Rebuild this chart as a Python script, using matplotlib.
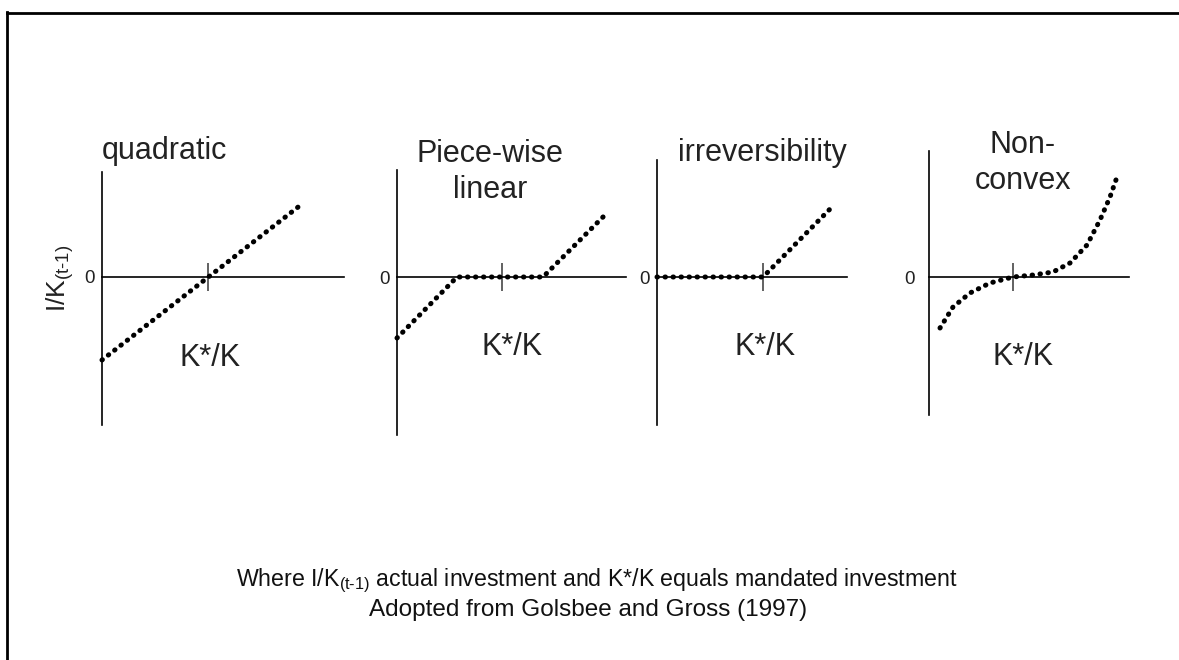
import matplotlib.pyplot as plt
from matplotlib.lines import Line2D

plt.rcParams['font.family'] = ['Liberation Sans', 'DejaVu Sans']
plt.rcParams['mathtext.fontset'] = 'custom'
plt.rcParams['mathtext.rm'] = 'Liberation Sans'
plt.rcParams['mathtext.it'] = 'Liberation Sans:italic'

W, H = 1179, 660

# data (one unit = 10 px, origin where the axes cross)
titles = ["quadratic", "Piece-wise\nlinear", "irreversibility", "Non-\nconvex"]
x_label = "K*/K"
k_star = [10.6, 10.5, 10.6, 8.4]

quad_x = [0, 20.0]
quad_y = [-8.3, 7.3]

pw_x = [0, 6.0, 14.6, 20.8]
pw_y = [-6.1, 0, 0, 6.2]

irr_x = [0, 10.6, 17.5]
irr_y = [0, 0, 7.0]

nc_x = [1.1, 2.4, 4.1, 6.1, 8.4, 10.4, 12.4, 14.1, 15.8, 17.1, 18.1, 18.8]
nc_y = [-5.1, -3.0, -1.6, -0.6, 0.0, 0.2, 0.5, 1.4, 3.2, 5.7, 8.0, 10.0]

curves = [(quad_x, quad_y), (pw_x, pw_y), (irr_x, irr_y), (nc_x, nc_y)]

# layout in pixels
boxes = [(102, 172, 344, 425), (397, 170, 626, 435), (657, 160, 847, 425), (929, 151, 1129, 415)]
zero_y = 277
scale = 10
zero_pad = [5, 5, 5, 10]
title_pos = [(102, 151, 'left'), (490, 172, 'center'), (762, 153, 'center'), (1023, 163, 'center')]
xlab_pos = [(210, 358), (512, 347), (765, 347), (1023, 357)]

fig = plt.figure(figsize=(W / 100, H / 100), dpi=100)

for i in range(4):
    l, t, r, b = boxes[i]
    ax = fig.add_axes([l / W, 1 - b / H, (r - l) / W, (b - t) / H])
    ax.set_xlim(0, (r - l) / scale)
    ax.set_ylim(-(b - zero_y) / scale, (zero_y - t) / scale)
    ax.patch.set_visible(False)
    ax.spines['top'].set_visible(False)
    ax.spines['right'].set_visible(False)
    ax.spines['left'].set_linewidth(1.2)
    ax.spines['bottom'].set_linewidth(1.2)
    ax.spines['bottom'].set_position(('data', 0))

    ax.set_xticks([k_star[i]])
    ax.set_xticklabels([''])
    ax.tick_params(axis='x', direction='inout', length=20, width=1.3, color='#555555')
    ax.set_yticks([0])
    ax.set_yticklabels(['0'])
    ax.tick_params(axis='y', length=0, pad=zero_pad[i], labelsize=13.5, labelcolor='#222222')

    cx, cy = curves[i]
    ax.plot(cx, cy, color='black', linewidth=3.6, linestyle=(0, (0.1, 1.5)),
            dash_capstyle='round', clip_on=False, zorder=3)

    tx, ty, ha = title_pos[i]
    fig.text(tx / W, 1 - ty / H, titles[i], ha=ha, va='center', fontsize=22,
             color='#222222', linespacing=1.25)
    lx, ly = xlab_pos[i]
    fig.text(lx / W, 1 - ly / H, x_label, ha='center', va='center', fontsize=22, color='#222222')

fig.text(60 / W, 1 - 278 / H, r'I/K$_{\text{(t-1)}}$', rotation=90, ha='center', va='center',
         fontsize=19, color='#222222')

fig.text(597 / W, 1 - 581 / H,
         r'Where I/K$_{\text{(t-1)}}$ actual investment and K*/K equals mandated investment',
         ha='center', va='center', fontsize=16.7, color='#111111')
fig.text(588 / W, 1 - 610 / H, 'Adopted from Golsbee and Gross (1997)',
         ha='center', va='center', fontsize=17.5, color='#111111')

# page frame (top and left only)
fig.add_artist(Line2D([7 / W, 1], [1 - 13 / H, 1 - 13 / H], color='black', linewidth=2))
fig.add_artist(Line2D([7 / W, 7 / W], [0, 1 - 12 / H], color='black', linewidth=2))

fig.savefig('out.png', dpi=100)
